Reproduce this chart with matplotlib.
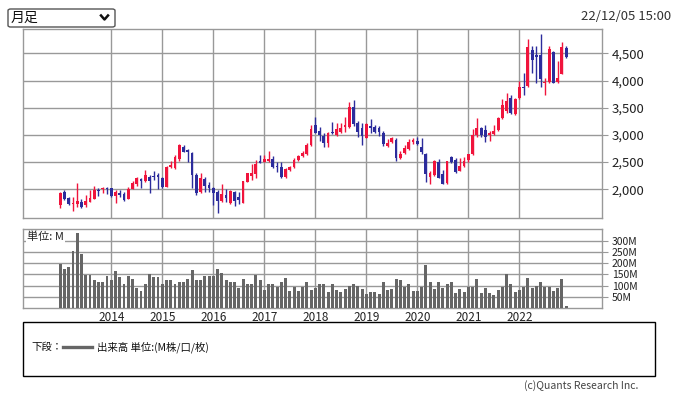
import numpy as np
import matplotlib
matplotlib.use("Agg")
import matplotlib.pyplot as plt
from matplotlib.patches import Rectangle, FancyBboxPatch
from matplotlib.lines import Line2D

plt.rcParams['font.family'] = ['Noto Sans CJK JP', 'DejaVu Sans']

# monthly candles, Jan 2013 .. Dec 2022
start_year = 2013
opens = [1710, 1944, 1833, 1728, 1722, 1759, 1710, 1772, 1821, 1988, 2000, 2031,
         2018, 1877, 1938, 1920, 1821, 2006, 2099, 2185, 2154, 2234, 2247, 2265,
         2204, 2043, 2401, 2389, 2562, 2783, 2716, 2672, 2265, 1957, 2191, 2080,
         2018, 1957, 1785, 1895, 1750, 1950, 1850, 1750, 2141, 2246, 2283, 2522,
         2506, 2524, 2561, 2420, 2408, 2219, 2360, 2408, 2530, 2604, 2653, 2817,
         3183, 3079, 2982, 2860, 3061, 2994, 3061, 3140, 3153, 3519, 3214, 3134,
         2951, 3165, 3153, 3122, 3043, 2787, 2878, 2909, 2580, 2665, 2738, 2878,
         2889, 2785, 2650, 2233, 2264, 2497, 2282, 2110, 2601, 2540, 2343, 2429,
         2539, 2644, 2993, 3122, 3091, 2993, 3018, 3091, 3306, 3447, 3673, 3385,
         3673, 3882, 3906, 4562, 4470, 4470, 3955, 3980, 4526, 3980, 4127, 4605]
highs = [1957, 1988, 1864, 1864, 2111, 1821, 1895, 1988, 2062, 2031, 2049, 2049,
         2031, 1988, 1988, 1957, 2043, 2154, 2234, 2204, 2358, 2265, 2339, 2296,
         2234, 2420, 2512, 2623, 2839, 2820, 2746, 2685, 2296, 2296, 2234, 2130,
         2043, 1988, 2093, 2006, 1990, 1975, 1950, 2160, 2300, 2467, 2530, 2632,
         2634, 2707, 2604, 2494, 2494, 2390, 2433, 2573, 2634, 2707, 2848, 3183,
         3336, 3140, 3043, 3061, 3244, 3214, 3214, 3323, 3610, 3641, 3262, 3214,
         3226, 3287, 3183, 3165, 3079, 2921, 2970, 2939, 2695, 2817, 2921, 2939,
         2956, 2950, 2662, 2343, 2540, 2558, 2355, 2527, 2619, 2570, 2570, 2601,
         2650, 3110, 3318, 3140, 3177, 3073, 3183, 3324, 3655, 3765, 3729, 3680,
         3998, 4133, 4759, 4642, 4642, 4857, 4041, 4642, 4544, 4360, 4716, 4642]
lows = [1660, 1796, 1710, 1605, 1679, 1660, 1679, 1759, 1821, 1883, 1926, 1914,
        1864, 1753, 1858, 1784, 1821, 2000, 2068, 2018, 2142, 1938, 2173, 2006,
        2018, 2043, 2389, 2376, 2525, 2685, 2500, 2031, 1895, 1926, 1957, 1957,
        1712, 1558, 1772, 1772, 1720, 1700, 1720, 1740, 2130, 2172, 2200, 2479,
        2494, 2494, 2390, 2311, 2201, 2207, 2342, 2390, 2512, 2586, 2634, 2799,
        3031, 2896, 2774, 2774, 3018, 2982, 3031, 3061, 3122, 3165, 2970, 2805,
        2939, 3043, 3043, 2982, 2799, 2774, 2860, 2524, 2561, 2646, 2726, 2836,
        2815, 2650, 2141, 2092, 2251, 2202, 2092, 2104, 2490, 2306, 2331, 2417,
        2503, 2631, 2969, 2956, 2864, 2895, 3005, 3079, 3287, 3398, 3385, 3367,
        3661, 3735, 3888, 4133, 3962, 3876, 3735, 3949, 3949, 3949, 4115, 4415]
closes = [1926, 1821, 1728, 1747, 1784, 1673, 1784, 1833, 1988, 1969, 2031, 2012,
          1877, 1957, 1895, 1802, 2000, 2123, 2204, 2154, 2253, 2154, 2228, 2216,
          2049, 2401, 2438, 2598, 2808, 2691, 2685, 2253, 1938, 2204, 2068, 2018,
          1926, 1785, 1907, 1846, 1969, 1790, 1800, 2159, 2294, 2307, 2467, 2491,
          2555, 2555, 2408, 2402, 2219, 2372, 2402, 2543, 2616, 2665, 2817, 3110,
          3043, 3000, 2860, 3043, 3031, 3104, 3134, 3183, 3519, 3195, 3061, 2988,
          3195, 3134, 3061, 3049, 2829, 2860, 2939, 2573, 2646, 2768, 2878, 2909,
          2828, 2680, 2288, 2294, 2521, 2215, 2104, 2515, 2503, 2325, 2429, 2527,
          2644, 2993, 3122, 2999, 2969, 3036, 3073, 3312, 3551, 3624, 3398, 3655,
          3876, 3870, 4611, 4378, 4427, 4029, 3968, 4581, 3962, 4041, 4611, 4440]
volumes = [195, 173, 182, 253, 332, 241, 145, 145, 123, 114, 114, 141,
           123, 164, 136, 105, 141, 127, 91, 77, 109, 150, 136, 136,
           109, 123, 123, 105, 114, 118, 127, 168, 123, 123, 141, 141,
           141, 173, 155, 123, 118, 114, 91, 127, 109, 105, 145, 123,
           82, 109, 109, 95, 114, 132, 77, 95, 77, 95, 114, 82,
           91, 105, 105, 73, 109, 82, 73, 86, 97, 105, 100, 86,
           64, 73, 73, 64, 118, 82, 86, 127, 123, 95, 105, 77,
           77, 95, 191, 114, 86, 118, 91, 109, 118, 68, 86, 73,
           95, 95, 127, 68, 91, 68, 59, 82, 95, 150, 105, 73,
           82, 95, 132, 91, 100, 114, 95, 95, 77, 91, 127, 9]

price_ticks = [2000, 2500, 3000, 3500, 4000, 4500]
price_labels = ['2,000', '2,500', '3,000', '3,500', '4,000', '4,500']
vol_ticks = [50, 100, 150, 200, 250, 300]
vol_labels = ['50M', '100M', '150M', '200M', '250M', '300M']
years = [2014, 2015, 2016, 2017, 2018, 2019, 2020, 2021, 2022]

UP = '#f0143c'
DOWN = '#2c2c9c'
GRID = '#999999'

W, H = 676, 396


def fx(px):
    return px / W


def fy(py):
    return 1 - py / H


o = np.array(opens, float)
h = np.array(highs, float)
l = np.array(lows, float)
c = np.array(closes, float)
x = start_year + np.arange(len(o)) / 12.0
cols = np.where(c >= o, UP, DOWN)

fig = plt.figure(figsize=(W / 100, H / 100), dpi=100)
fig.patch.set_facecolor('white')

ax = fig.add_axes([fx(23), fy(218), fx(602) - fx(23), fy(29) - fy(218)])
axv = fig.add_axes([fx(23), fy(308), fx(602) - fx(23), fy(229) - fy(308)])

xlim = (2012.27, 2023.62)

# price panel
ax.vlines(x, l, h, colors=cols, linewidth=1, zorder=3)
body = np.maximum(np.abs(c - o), 12)
ax.bar(x, body, bottom=np.minimum(o, c), width=0.055, color=cols,
       linewidth=0, zorder=4)
ax.set_xlim(*xlim)
ax.set_ylim(1470, 4950)
ax.set_yticks(price_ticks)
ax.set_yticklabels(price_labels)
ax.set_xticks(years)
ax.set_xticklabels([])
ax.yaxis.tick_right()
ax.tick_params(axis='y', length=4, color=GRID, pad=3, labelsize=9.5,
               labelcolor='#222222')
ax.tick_params(axis='x', length=0)
ax.grid(True, color=GRID, linewidth=1)
ax.set_axisbelow(True)

# volume panel
axv.bar(x, volumes, width=0.058, color='#666666', linewidth=0, zorder=3)
axv.set_xlim(*xlim)
axv.set_ylim(0, 352)
axv.set_yticks(vol_ticks)
axv.set_yticklabels(vol_labels)
axv.set_xticks(years)
axv.set_xticklabels([str(y) for y in years])
axv.yaxis.tick_right()
axv.tick_params(axis='y', length=4, color=GRID, pad=3, labelsize=7.5,
                labelcolor='#222222')
axv.tick_params(axis='x', length=0, pad=2, labelsize=8.5, labelcolor='#222222')
axv.grid(True, color=GRID, linewidth=1)
axv.set_axisbelow(True)
axv.text(0.007, 0.97, '単位: M', transform=axv.transAxes, fontsize=8,
         va='top', ha='left', color='#222222', zorder=5,
         bbox=dict(facecolor='white', edgecolor='none', pad=0.6))

for a in (ax, axv):
    for s in a.spines.values():
        s.set_color(GRID)
        s.set_linewidth(1)

# select box at top-left
sel = FancyBboxPatch((fx(8), fy(27)), fx(115) - fx(8), fy(9) - fy(27),
                     boxstyle='round,pad=0,rounding_size=0.004',
                     transform=fig.transFigure, facecolor='white',
                     edgecolor='#555555', linewidth=1)
fig.patches.append(sel)
fig.text(fx(11), fy(18), '月足', fontsize=10, va='center', ha='left',
         color='#111111')
fig.lines.append(Line2D([fx(101), fx(104.5), fx(108)], [fy(15.5), fy(19.5), fy(15.5)],
                        transform=fig.transFigure, color='#111111', linewidth=1.8))
fig.text(fx(671), fy(17), '22/12/05 15:00', fontsize=9.5, va='center',
         ha='right', color='#333333')

# legend box
fig.patches.append(Rectangle((fx(23), fy(376)), fx(655) - fx(23), fy(322) - fy(376),
                             transform=fig.transFigure, facecolor='white',
                             edgecolor='black', linewidth=1))
fig.text(fx(31), fy(347), '下段：', fontsize=7.5, va='center', ha='left',
         color='#111111')
fig.lines.append(Line2D([fx(63), fx(92)], [fy(347), fy(347)],
                        transform=fig.transFigure, color='#666666', linewidth=2.4))
fig.text(fx(97), fy(347), '出来高 単位:(M株/口/枚)', fontsize=7.5, va='center',
         ha='left', color='#111111')
fig.text(fx(638), fy(386), '(c)Quants Research Inc.', fontsize=7.5, va='center',
         ha='right', color='#444444')

fig.savefig('out.png', dpi=100)
